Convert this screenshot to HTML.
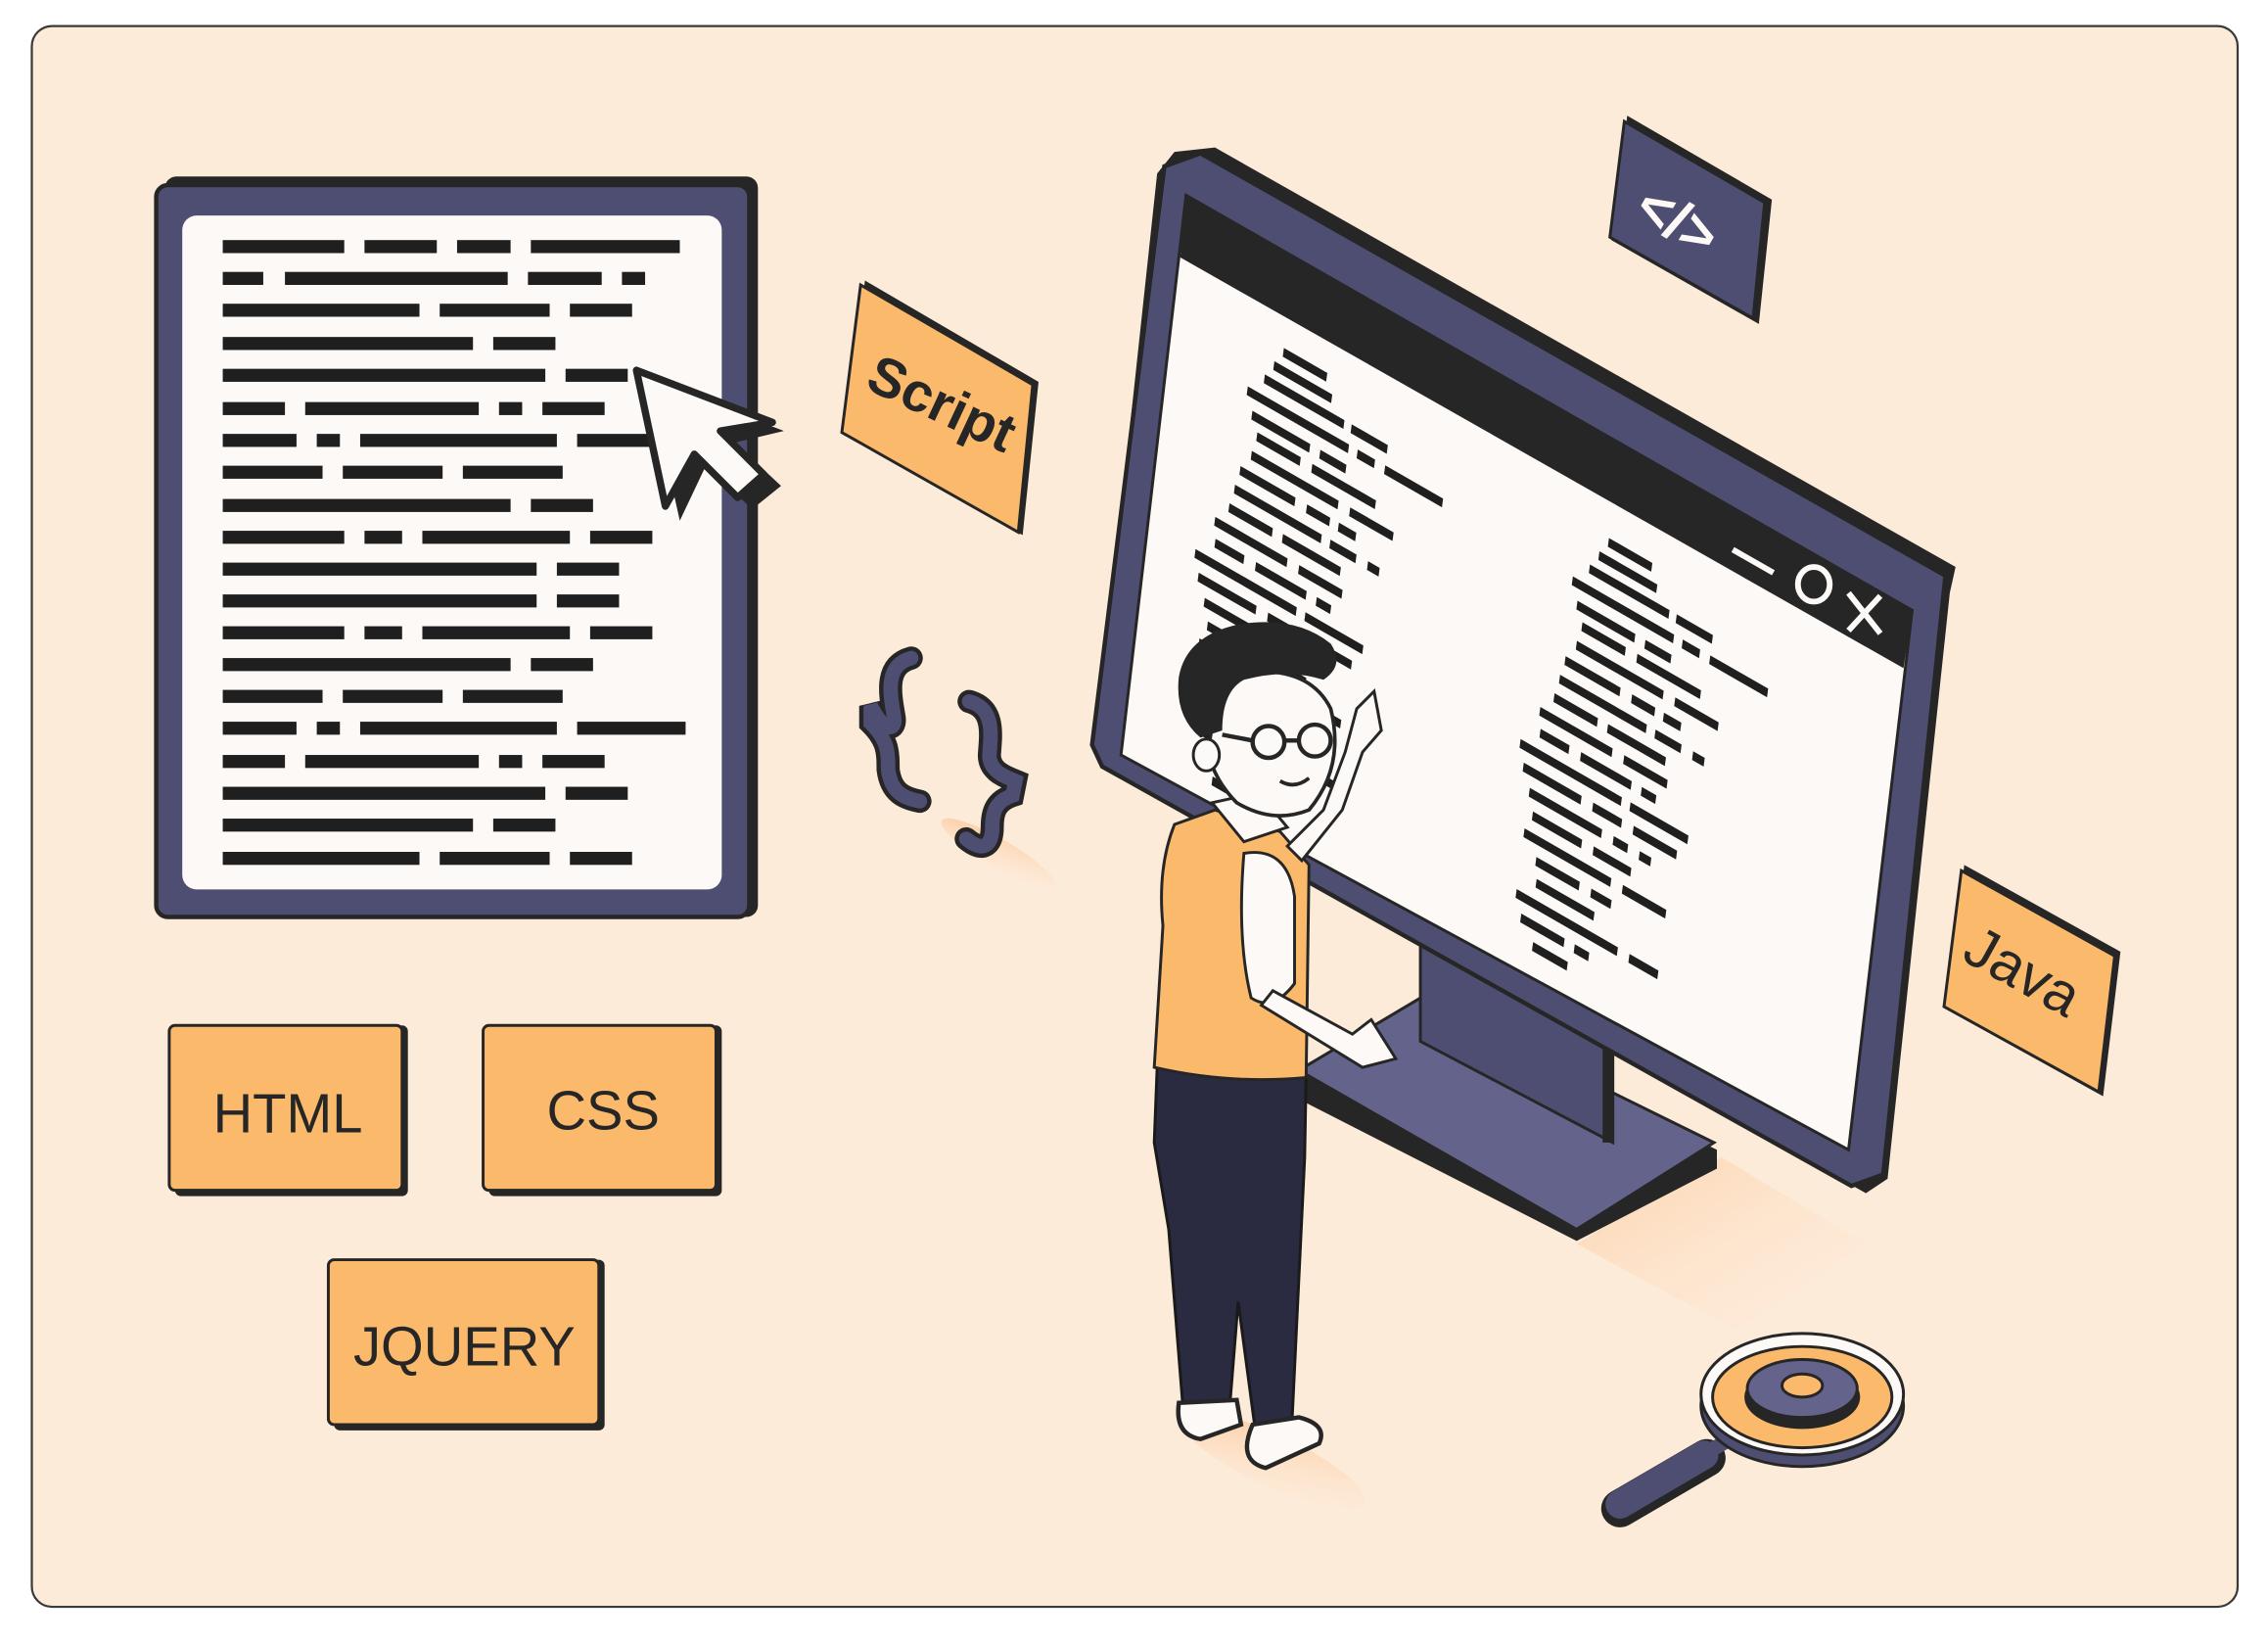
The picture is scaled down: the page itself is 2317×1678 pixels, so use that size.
<!DOCTYPE html>
<html><head><meta charset="utf-8"><style>
html,body{margin:0;padding:0;background:#fff;width:2317px;height:1678px;overflow:hidden}
svg{display:block}
text{font-family:"Liberation Sans",sans-serif}
</style></head><body>
<svg width="2317" height="1678" viewBox="0 0 1568 1136" preserveAspectRatio="none" xmlns="http://www.w3.org/2000/svg">
<defs>
<linearGradient id="sh" x1="0" y1="0" x2="1" y2="1"><stop offset="0" stop-color="#fcc493" stop-opacity=".9"/><stop offset="1" stop-color="#fde9d6" stop-opacity="0"/></linearGradient>
</defs>
<rect x="22" y="18" width="1525" height="1093" rx="14" fill="#fdebd9" stroke="#3a3a3a" stroke-width="1.5"/>

<rect x="114" y="122" width="410" height="512" rx="8" fill="#262626"/>
<rect x="108" y="128" width="410" height="506" rx="8" fill="#4e4e72" stroke="#262626" stroke-width="3"/>
<rect x="126" y="149" width="373" height="466" rx="10" fill="#fdf9f6"/>
<g fill="#1f1f1f">
<rect x="154" y="166" width="84" height="9"/><rect x="252" y="166" width="50" height="9"/><rect x="316" y="166" width="37" height="9"/><rect x="367" y="166" width="103" height="9"/>
<rect x="154" y="188" width="28" height="9"/><rect x="197" y="188" width="154" height="9"/><rect x="365" y="188" width="51" height="9"/><rect x="430" y="188" width="16" height="9"/>
<rect x="154" y="210" width="136" height="9"/><rect x="304" y="210" width="76" height="9"/><rect x="394" y="210" width="43" height="9"/>
<rect x="154" y="233" width="173" height="9"/><rect x="341" y="233" width="43" height="9"/>
<rect x="154" y="255" width="223" height="9"/><rect x="391" y="255" width="43" height="9"/>
<rect x="154" y="278" width="43" height="9"/><rect x="211" y="278" width="120" height="9"/><rect x="345" y="278" width="16" height="9"/><rect x="375" y="278" width="43" height="9"/>
<rect x="154" y="300" width="51" height="9"/><rect x="219" y="300" width="16" height="9"/><rect x="249" y="300" width="136" height="9"/><rect x="399" y="300" width="51" height="9"/>
<rect x="154" y="322" width="69" height="9"/><rect x="237" y="322" width="69" height="9"/><rect x="320" y="322" width="69" height="9"/>
<rect x="154" y="345" width="199" height="9"/><rect x="367" y="345" width="43" height="9"/>
<rect x="154" y="367" width="84" height="9"/><rect x="252" y="367" width="26" height="9"/><rect x="292" y="367" width="102" height="9"/><rect x="408" y="367" width="43" height="9"/>
<rect x="154" y="389" width="217" height="9"/><rect x="385" y="389" width="43" height="9"/>
<rect x="154" y="411" width="217" height="9"/><rect x="385" y="411" width="43" height="9"/>
<rect x="154" y="433" width="84" height="9"/><rect x="252" y="433" width="26" height="9"/><rect x="292" y="433" width="102" height="9"/><rect x="408" y="433" width="43" height="9"/>
<rect x="154" y="455" width="199" height="9"/><rect x="367" y="455" width="43" height="9"/>
<rect x="154" y="477" width="69" height="9"/><rect x="237" y="477" width="69" height="9"/><rect x="320" y="477" width="69" height="9"/>
<rect x="154" y="499" width="51" height="9"/><rect x="219" y="499" width="16" height="9"/><rect x="249" y="499" width="136" height="9"/><rect x="399" y="499" width="75" height="9"/>
<rect x="154" y="522" width="43" height="9"/><rect x="211" y="522" width="120" height="9"/><rect x="345" y="522" width="16" height="9"/><rect x="375" y="522" width="43" height="9"/>
<rect x="154" y="544" width="223" height="9"/><rect x="391" y="544" width="43" height="9"/>
<rect x="154" y="566" width="173" height="9"/><rect x="341" y="566" width="43" height="9"/>
<rect x="154" y="589" width="136" height="9"/><rect x="304" y="589" width="76" height="9"/><rect x="394" y="589" width="43" height="9"/>
</g>
<polygon points="448,262 470,360 488,322 520,352 540,336 508,306 542,298" fill="#262626"/>
<polygon points="440,256 460,350 480,314 510,344 528,328 498,298 534,292" fill="#fdf9f6" stroke="#262626" stroke-width="5" stroke-linejoin="round"/>

<polygon points="598,194 718,264 707,370 585,300" fill="#262626"/>
<polygon points="595,197 714,266 704,368 582,299" fill="#fbb96c" stroke="#262626" stroke-width="2"/>
<text x="0" y="0" font-size="38" font-weight="bold" fill="#262626" transform="translate(597,268) rotate(25)">Script</text>

<ellipse cx="690" cy="590" rx="45" ry="10" fill="url(#sh)" transform="rotate(30 690 590)"/>
<path d="M630,455 C612,460 615,478 618,495 C620,505 612,508 602,488 L602,500 C614,512 614,520 614,532 C616,548 625,552 636,554" fill="none" stroke="#262626" stroke-width="16" stroke-linecap="round"/>
<path d="M630,455 C612,460 615,478 618,495 C620,505 612,508 602,488 L602,500 C614,512 614,520 614,532 C616,548 625,552 636,554" fill="none" stroke="#4e4e72" stroke-width="10" stroke-linecap="round"/>
<path d="M670,485 C688,490 685,508 684,522 C684,532 692,536 702,540 L700,550 C688,554 686,562 686,572 C686,584 680,590 668,580" fill="none" stroke="#262626" stroke-width="16" stroke-linecap="round"/>
<path d="M670,485 C688,490 685,508 684,522 C684,532 692,536 702,540 L700,550 C688,554 686,562 686,572 C686,584 680,590 668,580" fill="none" stroke="#4e4e72" stroke-width="10" stroke-linecap="round"/>

<polygon points="1090,860 1190,800 1290,860 1200,920" fill="url(#sh)" opacity=".7"/>
<ellipse cx="880" cy="1010" rx="70" ry="18" fill="url(#sh)" transform="rotate(25 880 1010)"/>

<polygon points="898,745 982,695 1187,795 1187,808 1090,858 898,760" fill="#262626"/>
<polygon points="898,740 982,690 1185,790 1090,850" fill="#63638b" stroke="#262626" stroke-width="2"/>
<polygon points="982,630 1115,700 1115,790 982,720" fill="#4e4e72" stroke="#262626" stroke-width="2"/>
<rect x="1108" y="700" width="8" height="90" fill="#262626"/>

<polygon points="812,105 840,102 1352,392 1348,410 1305,815 1290,825 770,532 757,520 800,120" fill="#262626"/>
<polygon points="805,115 830,106 1345,398 1302,812 1280,820 762,530 755,515" fill="#4e4e72" stroke="#262626" stroke-width="3"/>
<polygon points="820,135 1322,422 1278,795 775,522" fill="#fdf9f6" stroke="#262626" stroke-width="2"/>
<polygon points="820,135 1322,422 1316,462 816,178" fill="#262626"/>
<g stroke="#fdf9f6" stroke-width="4" fill="none">
<line x1="1198" y1="380" x2="1226" y2="396"/>
<ellipse cx="1254" cy="404" rx="11" ry="12"/>
<line x1="1278" y1="410" x2="1300" y2="438"/><line x1="1300" y1="412" x2="1278" y2="436"/>
</g>
<g fill="#1f1f1f" transform="matrix(1,0.575,-0.13,1,0,0)">
<g transform="translate(855,-251)">
<rect x="0" y="0" width="30" height="6"/><rect x="-5" y="12" width="40" height="6"/><rect x="-10" y="24" width="55" height="6"/><rect x="50" y="24" width="25" height="6"/><rect x="-20" y="38" width="70" height="6"/><rect x="56" y="38" width="12" height="6"/><rect x="75" y="38" width="40" height="6"/>
<rect x="-15" y="52" width="40" height="6"/><rect x="32" y="52" width="18" height="6"/><rect x="-10" y="64" width="30" height="6"/><rect x="28" y="64" width="44" height="6"/><rect x="-12" y="78" width="60" height="6"/><rect x="56" y="78" width="30" height="6"/>
<rect x="-18" y="92" width="38" height="6"/><rect x="28" y="92" width="16" height="6"/><rect x="50" y="92" width="12" height="6"/><rect x="-20" y="106" width="60" height="6"/><rect x="46" y="106" width="18" height="6"/><rect x="72" y="106" width="8" height="6"/>
<rect x="-22" y="120" width="30" height="6"/><rect x="15" y="120" width="40" height="6"/><rect x="-30" y="134" width="50" height="6"/><rect x="28" y="134" width="30" height="6"/>
<rect x="-28" y="148" width="20" height="6"/><rect x="0" y="148" width="35" height="6"/><rect x="42" y="148" width="10" height="6"/><rect x="-40" y="162" width="70" height="6"/><rect x="36" y="162" width="40" height="6"/>
<rect x="-36" y="176" width="40" height="6"/><rect x="12" y="176" width="20" height="6"/><rect x="40" y="176" width="30" height="6"/><rect x="-30" y="190" width="50" height="6"/><rect x="28" y="190" width="10" height="6"/><rect x="46" y="190" width="8" height="6"/>
<rect x="-26" y="204" width="34" height="6"/><rect x="16" y="204" width="26" height="6"/><rect x="-30" y="218" width="60" height="6"/><rect x="38" y="218" width="30" height="6"/>
<rect x="-20" y="232" width="30" height="6"/><rect x="18" y="232" width="14" height="6"/><rect x="-18" y="246" width="40" height="6"/><rect x="-30" y="260" width="70" height="6"/><rect x="48" y="260" width="20" height="6"/>
<rect x="-25" y="274" width="30" height="6"/><rect x="12" y="274" width="10" height="6"/><rect x="-15" y="288" width="24" height="6"/><rect x="-10" y="302" width="40" height="6"/>
</g>
<g transform="translate(1080,-249)">
<rect x="0" y="0" width="30" height="6"/><rect x="-5" y="12" width="40" height="6"/><rect x="-10" y="24" width="55" height="6"/><rect x="50" y="24" width="25" height="6"/><rect x="-20" y="38" width="70" height="6"/><rect x="56" y="38" width="12" height="6"/><rect x="75" y="38" width="40" height="6"/>
<rect x="-15" y="52" width="40" height="6"/><rect x="32" y="52" width="18" height="6"/><rect x="-10" y="64" width="30" height="6"/><rect x="28" y="64" width="44" height="6"/><rect x="-12" y="78" width="60" height="6"/><rect x="56" y="78" width="30" height="6"/>
<rect x="-18" y="92" width="38" height="6"/><rect x="28" y="92" width="16" height="6"/><rect x="50" y="92" width="12" height="6"/><rect x="-20" y="106" width="60" height="6"/><rect x="46" y="106" width="18" height="6"/><rect x="72" y="106" width="8" height="6"/>
<rect x="-22" y="120" width="30" height="6"/><rect x="15" y="120" width="40" height="6"/><rect x="-30" y="134" width="50" height="6"/><rect x="28" y="134" width="30" height="6"/>
<rect x="-28" y="148" width="20" height="6"/><rect x="0" y="148" width="35" height="6"/><rect x="42" y="148" width="10" height="6"/><rect x="-40" y="162" width="70" height="6"/><rect x="36" y="162" width="40" height="6"/>
<rect x="-36" y="176" width="40" height="6"/><rect x="12" y="176" width="20" height="6"/><rect x="40" y="176" width="30" height="6"/><rect x="-30" y="190" width="50" height="6"/><rect x="28" y="190" width="10" height="6"/><rect x="46" y="190" width="8" height="6"/>
<rect x="-26" y="204" width="34" height="6"/><rect x="16" y="204" width="26" height="6"/><rect x="-30" y="218" width="60" height="6"/><rect x="38" y="218" width="30" height="6"/>
<rect x="-20" y="232" width="30" height="6"/><rect x="18" y="232" width="14" height="6"/><rect x="-18" y="246" width="40" height="6"/><rect x="-30" y="260" width="70" height="6"/><rect x="48" y="260" width="20" height="6"/>
<rect x="-25" y="274" width="30" height="6"/><rect x="12" y="274" width="10" height="6"/><rect x="-15" y="288" width="24" height="6"/>
</g>
</g>

<polygon points="1125,80 1225,138 1216,224 1114,166" fill="#262626"/>
<polygon points="1123,84 1220,140 1212,220 1113,164" fill="#4e4e72" stroke="#262626" stroke-width="2"/>
<text x="0" y="0" font-size="40" font-weight="bold" fill="#fdf9f6" transform="translate(1128,150) rotate(30)">&lt;/&gt;</text>

<polygon points="1358,598 1466,658 1454,758 1346,698" fill="#262626"/>
<polygon points="1356,602 1462,661 1451,755 1344,696" fill="#fbb96c" stroke="#262626" stroke-width="2"/>
<text x="0" y="0" font-size="40" fill="#262626" transform="translate(1355,663) rotate(29)">Java</text>

<polygon points="800,738 903,742 902,800 893,988 868,990 856,900 850,975 818,975 808,850 798,790" fill="#2a2a40" stroke="#1a1a1a" stroke-width="2"/>
<path d="M815,970 Q812,992 830,995 L858,985 L855,968 Z" fill="#fdf9f6" stroke="#262626" stroke-width="3"/>
<path d="M866,985 Q855,1010 875,1015 L912,998 Q918,985 898,980 Z" fill="#fdf9f6" stroke="#262626" stroke-width="3"/>
<path d="M812,570 L840,560 L885,575 L905,598 L903,745 Q850,750 798,738 L804,640 Q800,600 812,570 Z" fill="#fbb96c" stroke="#262626" stroke-width="2"/>
<path d="M860,590 Q890,585 895,620 L895,680 Q880,700 865,690 Q855,650 860,590 Z" fill="#fdf9f6" stroke="#262626" stroke-width="2"/>
<path d="M880,685 L935,715 L948,705 L965,732 L942,738 L872,695 Z" fill="#fdf9f6" stroke="#262626" stroke-width="2"/>
<path d="M890,585 L915,560 L930,520 L938,490 L950,478 L955,505 L942,520 L928,560 L900,595 Z" fill="#fdf9f6" stroke="#262626" stroke-width="2"/>
<path d="M838,555 L870,548 L890,572 L860,582 Z" fill="#fdf9f6" stroke="#262626" stroke-width="2"/>
<path d="M840,490 Q835,470 860,465 Q905,460 920,490 Q930,530 905,560 Q880,570 855,555 Q840,540 835,520 Z" fill="#fdf9f6" stroke="#262626" stroke-width="2.5"/>
<ellipse cx="834" cy="522" rx="9" ry="11" fill="#fdf9f6" stroke="#262626" stroke-width="2"/>
<path d="M815,468 Q820,440 855,432 Q895,425 920,445 Q930,460 915,470 Q890,462 860,470 Q845,478 845,505 L830,510 Q812,495 815,468 Z" fill="#262626"/>
<circle cx="877" cy="513" r="11" fill="none" stroke="#262626" stroke-width="3"/>
<circle cx="909" cy="512" r="11" fill="none" stroke="#262626" stroke-width="3"/>
<line x1="888" y1="512" x2="898" y2="512" stroke="#262626" stroke-width="3"/>
<line x1="845" y1="508" x2="866" y2="512" stroke="#262626" stroke-width="3"/>
<path d="M885,540 Q895,546 905,538" fill="none" stroke="#262626" stroke-width="2.5"/>

<line x1="1120" y1="1043" x2="1180" y2="1008" stroke="#262626" stroke-width="26" stroke-linecap="round"/>
<line x1="1120" y1="1040" x2="1178" y2="1006" stroke="#4e4e72" stroke-width="20" stroke-linecap="round"/>
<line x1="1170" y1="1010" x2="1205" y2="990" stroke="#4e4e72" stroke-width="10"/>
<ellipse cx="1246" cy="972" rx="70" ry="42" fill="#4e4e72" stroke="#262626" stroke-width="2"/>
<ellipse cx="1246" cy="964" rx="70" ry="42" fill="#fdf9f6" stroke="#262626" stroke-width="2"/>
<ellipse cx="1246" cy="966" rx="62" ry="35" fill="#fbb96c" stroke="#262626" stroke-width="2"/>
<ellipse cx="1246" cy="966" rx="40" ry="22" fill="#262626"/>
<ellipse cx="1246" cy="960" rx="38" ry="20" fill="#63638b" stroke="#262626" stroke-width="2"/>
<ellipse cx="1246" cy="958" rx="14" ry="8" fill="#fbb96c" stroke="#262626" stroke-width="2"/>

<rect x="121" y="709" width="161" height="118" rx="4" fill="#262626"/>
<rect x="117" y="709" width="161" height="114" rx="4" fill="#fbb96c" stroke="#262626" stroke-width="2"/>
<text x="199" y="783" font-size="38" fill="#262626" text-anchor="middle">HTML</text>
<rect x="338" y="709" width="161" height="118" rx="4" fill="#262626"/>
<rect x="334" y="709" width="161" height="114" rx="4" fill="#fbb96c" stroke="#262626" stroke-width="2"/>
<text x="417" y="781" font-size="38" fill="#262626" text-anchor="middle">CSS</text>
<rect x="231" y="871" width="187" height="118" rx="4" fill="#262626"/>
<rect x="227" y="871" width="187" height="114" rx="4" fill="#fbb96c" stroke="#262626" stroke-width="2"/>
<text x="321" y="944" font-size="38" fill="#262626" text-anchor="middle">JQUERY</text>
</svg>
</body></html>
